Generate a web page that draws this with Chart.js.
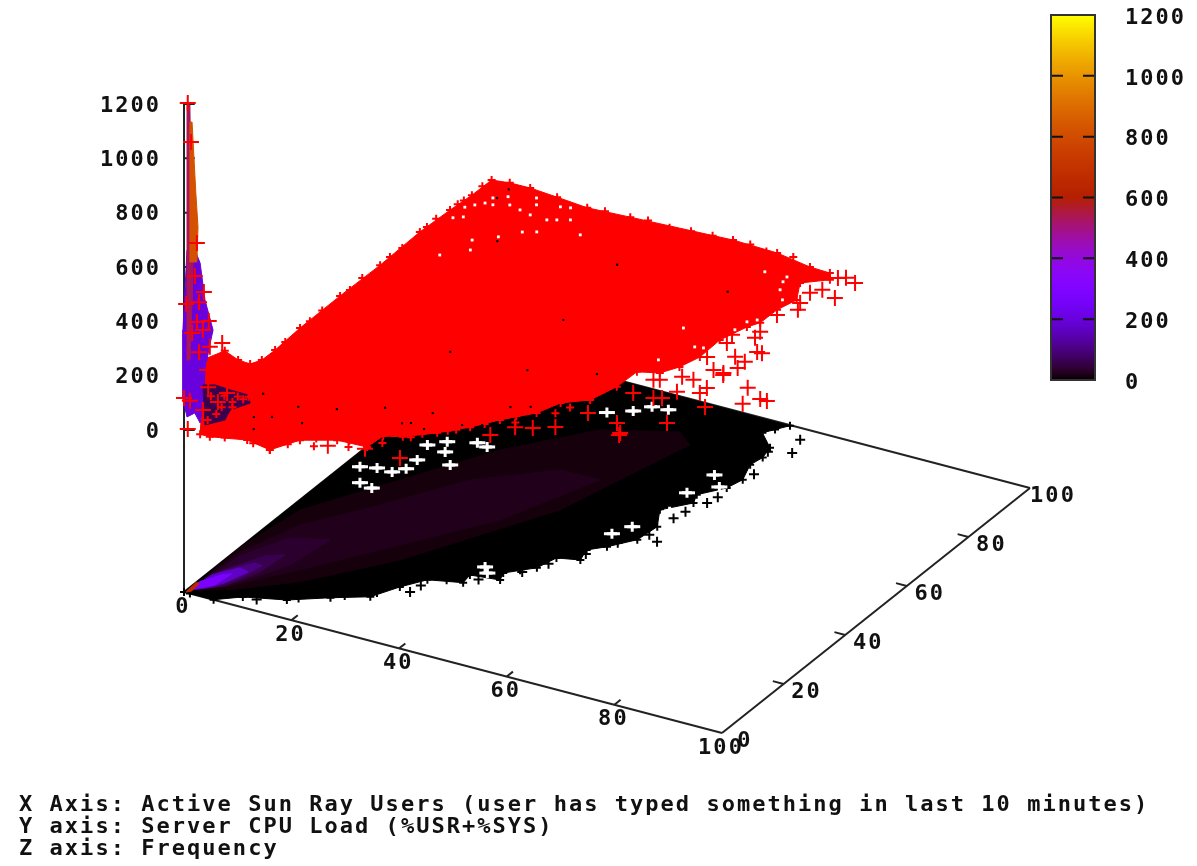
<!DOCTYPE html>
<html>
<head>
<meta charset="utf-8">
<title>Sun Ray frequency</title>
<script src="https://cdn.jsdelivr.net/npm/chart.js@4"></script>
<style>
html, body { margin: 0; background: #fff; overflow: hidden; }
#scene { position: absolute; left: 0; top: 0; }
#bar { position: absolute; left: 1030px; top: 0; }
#caption { position: absolute; left: 19px; top: 793px; margin: 0; color: #111;
  font: bold 22px/22px "DejaVu Sans Mono", monospace; letter-spacing: 2.03px; white-space: pre; }
</style>
</head>
<body>
<canvas id="scene" width="1197" height="866"></canvas>
<canvas id="bar" width="167" height="400"></canvas>
<pre id="caption">X Axis: Active Sun Ray Users (user has typed something in last 10 minutes)
Y axis: Server CPU Load (%USR+%SYS)
Z axis: Frequency</pre>
<script>
// axis ticks
const userTicks = [0, 20, 40, 60, 80, 100];
const loadTicks = [0, 20, 40, 60, 80, 100];
const freqTicks = [0, 200, 400, 600, 800, 1000, 1200];
const floorFreq = -596; // the base of the box sits this far under z=0

// floor histogram: black outline, values read along the edge
const floorUsers = [0, 0, 55.5, 54.1, 52.9, 56.6, 57.3, 56.8, 58.4, 57.6, 54.6, 55.6, 52.1, 54.7, 54.2, 51.2, 48.9, 49.8, 46.1, 45.1, 41.3, 42.1, 37, 37.4, 31.9, 29.3, 26.9, 21.5, 15.8, 9.1, 5.5, 1.1];
const floorLoad = [0, 100, 99.8, 97.4, 95.4, 91.4, 87.8, 84.6, 79.4, 75.6, 71.1, 68.3, 63.5, 58.1, 52.5, 47.9, 45.3, 41.7, 40.4, 35.8, 31.5, 29.1, 28.2, 25.3, 23.3, 18.9, 13.5, 10, 5.8, 3.2, 0, 0];

// floor histogram: frequency bands, outer to inner
const bandFreq = [8, 20, 35, 60, 100, 170, 280, 650];
const bandUsers = [
  [0.4, 0, 1.8, 10.5, 19.2, 29.7, 41.2, 44.9, 42.3, 38.2, 31.4, 24.6, 14.4, 6],
  [0.4, 0.8, 4.4, 11.2, 20.3, 31.2, 38.5, 31.5, 21.9, 12.3, 5.3],
  [0.4, 1.5, 5.3, 11.3, 10.1, 6],
  [0.4, 1.8, 5, 7.6, 7.1, 4.6],
  [0.4, 1.5, 4.8, 6.3, 5.3, 3.4],
  [0.4, 0.9, 3.6, 5.4, 4.1, 2.2],
  [0.4, 0.4, 2.3, 3.5, 3.1],
  [0.3, 0, 0.7, 0.9]
];
const bandLoad = [
  [1.1, 18.9, 34.5, 51.8, 69, 83.3, 89, 85.8, 74.2, 55.5, 41.3, 27.2, 12.4, 4.3],
  [1.1, 16.8, 29.9, 40.8, 57.4, 67.8, 67.9, 47.5, 31.8, 16.1, 5.5],
  [1.1, 15.6, 25.1, 27.8, 16.8, 7.6],
  [1.1, 10.1, 17.6, 19.5, 12.2, 5.1],
  [1.1, 9, 14.6, 14.3, 8.8, 4],
  [1.1, 7.5, 11.9, 11.3, 6.1, 2.9],
  [1.1, 4.4, 8.3, 9.4, 4.6],
  [0.1, 4, 3.7, 0.9]
];

// empty cells in the floor
const floorGapUsers = [2.6, 5.2, 8, 9.4, 9.4, 5.4, 8, 10.4, 11.9, 14.9, 8.2, 14.8, 16.9, 27.6, 31, 32.9, 35.7, 53.6, 56.4, 52.9, 53.8, 51.2, 49.6, 39.1, 37.7];
const floorGapLoad = [52.6, 53.6, 53.6, 55.7, 59.3, 47.7, 47, 67.3, 64, 60.4, 64.7, 69.4, 68.9, 89.1, 91.7, 94.5, 94.9, 78.6, 75.3, 70.9, 63.7, 56.1, 52.3, 30.2, 31.9];

// lone cells just outside the floor outline
const floorStrayUsers = [59.4, 60.6, 57.3, 43.8, 31.6, 57.5, 11.5, 17, 23, 27, 32, 34.5, 39, 43, 46, 49.5, 52, 55, 55.5, 56, 58, 59, 57];
const floorStrayLoad = [96.3, 91.6, 53.5, 33.3, 18.2, 69.4, 3.5, 7.5, 12, 15.5, 21, 25, 27.5, 34, 38, 44, 50, 55, 62, 65, 72, 82, 90];

// red points: outline of the solid part of the cloud
const cloudUsers = [3.9, 1, 0.5, 0.5, 0.5, 0.5, 0.5, 0.5, 0.5, 0.5, 0.5, 0.5, 0.5, 3.3, 7.1, 12.1, 17.7, 25.7, 44.8, 53, 59.1, 62.8, 63.9, 60.3, 62.8, 61.8, 61.7, 60.6, 59.1, 59.3, 58.2, 56.5, 53.1, 52.9, 51.5, 47.9, 46.3, 42.4, 39.5, 35.9, 31.8, 28.9, 28.6, 23.2, 18, 15.5, 10.6, 4.8, 3];
const cloudLoad = [0, 11.5, 16.7, 20.6, 24.4, 28.7, 36.8, 49.8, 62.8, 75.7, 85.5, 92.6, 99, 100, 100, 100, 100, 100, 100, 100, 100, 100, 98.1, 94.7, 89.2, 84.6, 79.3, 76.9, 70.7, 63.9, 59.2, 55.8, 54.3, 48.1, 41.9, 38.6, 33.6, 28.5, 23.9, 19.5, 15.5, 14.2, 9.5, 9.2, 6.2, 0.8, 2, 0, 0];
const cloudFreq = [282, 193, 110, 60, 40, 38, 46, 47, 43, 49, 41, 32, 30, 25, 26, 18, 8, 15, 30, 25, 5, 2, 0, 0, 0, 0, 0, 0, 0, 0, 0, 0, 0, 0, 0, 0, 0, 0, 0, 0, 0, 0, 0, 0, 0, 0, 0, 0, 0];

// small stubble of red points along the cloud edge
const fringeUsers = [0.5, 0.5, 0.5, 0.5, 0.5, 0.5, 0.5, 0.5, 0.5, 0.5, 0.5, 0.5, 21, 29, 33, 37, 41, 48, 51, 56, 7, 9, 12, 13, 17, 20, 21, 25, 26, 30, 33, 34, 37, 38, 41, 44, 45, 49, 50];
const fringeLoad = [32, 40, 44, 53, 57, 66, 70, 78, 81, 88, 90, 96, 100, 100, 100, 100, 100, 100, 100, 100, 1, 3, 1.5, 3, 4, 8, 5.5, 10, 8, 12, 16, 18, 21, 22, 26, 31, 29, 35, 38];
const fringeFreq = [38, 42, 46, 40, 48, 44, 41, 46, 50, 40, 36, 34, 12, 20, 14, 22, 26, 30, 20, 26, 0, 0, 0, 0, 0, 0, 0, 0, 0, 0, 0, 0, 0, 0, 0, 0, 0, 0, 0];

// the spike next to the origin, drawn at load 0
const spikeFreq = [200, 530, 820, 60];
const spikeUsers = [
  [-0.2, 0.56, 2.04, 3, 3.9, 5.4, 4.8, 3.9, 3.7, 3, 2, 0.56, -0.3, -0.3],
  [0.56, 1.1, 1.3, 1.67, 1.5, 1.1, 0.74, 0.56],
  [1.1, 1.5, 2.2, 2.6, 2.4, 1.1],
  [3.5, 5.8, 8.6, 11.9, 12.3, 8.6, 7.6, 3.9]
];
const spikeCounts = [
  [367, 665, 673, 630, 499, 396, 338, 241, 130, 41, 73, 51, 120, 194],
  [1199, 1202, 853, 627, 486, 263, 261, 849],
  [1139, 1141, 884, 761, 631, 624],
  [184, 196, 192, 191, 163, 118, 76, 39]
];
// red specks over the dark foot of the spike
const speckUsers = [5, 7, 9, 10, 6, 4.4, 9, 11, 7.5, 12];
const speckCounts = [150, 120, 150, 175, 90, 60, 130, 170, 165, 185];

// single red + marks
const plusUsers = [0.7, 1.3, 2.4, 2, 3.7, 0.4, 2.8, 2.4, 4.6, 1.5, 3.5, 7.1, 2.8, 4.8, 4.3, 4.5, 0, 1.1, 6.3, 3.5, 0.7, 8,
  64.7, 65.8, 68, 67.8, 64.6, 63.4, 63.8, 64.7, 62.7, 63.3, 63.6, 67.3, 66.4, 59.9, 60.6, 64.2, 66.4, 66.5, 63.5, 65.4, 60.3, 62.4, 65.7, 65.6, 71.4, 75.1, 76.4, 73.5, 68.8, 62.2, 57.7, 60.3, 61.2, 60, 56.3, 66.3, 61.5, 59.3, 61.7, 51.4, 48.4, 45.8, 43.7, 53.5, 35.1, 65.7, 56.8, 14.8, 22.9, 28.6];
const plusLoad = [0, 0, 0, 0, 0, 0, 0, 0, 0, 0, 0, 0, 0, 0, 0, 0, 0, 0, 0, 0, 0, 0,
  99.3, 100, 99.1, 92.9, 94.4, 92.5, 88.6, 86.3, 83, 76.5, 74.3, 70.1, 70.1, 73.3, 70.4, 66.8, 66.1, 63.6, 61, 60.9, 64.5, 56.4, 55, 52.9, 58.3, 55.9, 55.8, 53, 49, 51.4, 53.7, 56.4, 48.3, 47.6, 47.5, 41, 34.2, 37, 33.5, 30.8, 28.7, 27.5, 23.1, 37.7, 8.8, 60.3, 53.2, 2, 6.7, 8.8];
const plusFreq = [1207, 1067, 701, 577, 527, 466, 485, 410, 425, 365, 386, 357, 301, 331, 243, 181, 118, 113, 136, 92, 7, 178,
  0, 0, 0, 0, 0, 0, 0, 0, 0, 0, 0, 0, 0, 0, 0, 0, 0, 0, 0, 0, 0, 0, 0, 0, 0, 0, 0, 0, 0, 0, 0, 0, 0, 0, 0, 0, 0, 0, 0, 0, 0, 0, 0, 0, 0, 0, 0, 0, 0, 0];

// holes between the red points
const holeUsers = [2.2, 2.4, 3.6, 4.3, 6, 1.1, 0.1, 0.3, 1.6, 8.3, 10.6, 8.5, 9.7, 13.4, 15, 15.2, 17.1, 13.8, 12.5, 14.5, 6.9, 8.4, 5, 10, 21.1, 57.7, 57.4, 53.4, 58.7, 60.8, 59.4, 56.8, 58.2, 54, 51.9, 59.7, 60.8];
const holeLoad = [93.9, 96.1, 94, 97.7, 95.3, 92.5, 91, 86.8, 87.9, 94.6, 93.9, 99.6, 97.5, 98.8, 99.3, 94.5, 95.6, 93.7, 88, 89.2, 81.5, 78.3, 74.3, 84.6, 91.8, 93.7, 95.5, 95.3, 91, 88.1, 75.1, 66.6, 67, 59.7, 71.5, 78.5, 79.9];

// dark low-count points showing through the red
const dotUsers = [4.7, 11.9, 10, 7.5, 9.6, 17.7, 24.2, 31.8, 29.3, 30.5, 15.3, 38, 40.8, 33.4, 51.7, 3.1, 3, 10.6, 31.5, 47.9, 41.6, 44.4, 33.7, 23.5, 37.5];
const dotLoad = [17.5, 16.3, 11.1, 9.6, 5.9, 18.7, 23, 25.2, 19.6, 20.4, 11.6, 23.9, 25.5, 19.6, 86.2, 100, 96.4, 83.2, 85.6, 50.4, 33.3, 35, 64.3, 45.4, 46];

// picture scale of the box: one unit of each axis on screen
const unit = { xx: 5.38, xy: 1.41, yx: 3.08, yy: 2.45, z: 0.2717 };

function project(user, load, freq) {
  return {
    x: unit.xx * user + unit.yx * load,
    y: -unit.xy * user + unit.yy * load + unit.z * freq
  };
}

// gnuplot palette 7,5,15
function palette(freq) {
  const t = Math.max(0, Math.min(1, freq / 1200));
  const r = Math.sqrt(t), g = t * t * t, b = Math.max(0, Math.sin(2 * Math.PI * t));
  return 'rgb(' + Math.round(r * 255) + ',' + Math.round(g * 255) + ',' + Math.round(b * 255) + ')';
}

function shape(users, loads, freqs, color, order, extra) {
  const data = users.map(function (u, i) {
    return project(u, loads[i], Array.isArray(freqs) ? freqs[i] : freqs);
  });
  data.push(data[0]);
  return Object.assign({
    data: data, showLine: true, fill: 'shape', backgroundColor: color, borderColor: color,
    borderWidth: 1, pointRadius: 0, order: order
  }, extra || {});
}

function marks(users, loads, freqs, style, color, radius, width, order) {
  return {
    data: users.map(function (u, i) {
      return project(u, loads[i], Array.isArray(freqs) ? freqs[i] : freqs);
    }),
    showLine: false, pointStyle: style, pointRadius: radius, pointBorderWidth: width,
    pointBorderColor: color, pointBackgroundColor: color, order: order
  };
}

function edge(from, to, order) {
  return {
    data: [project.apply(null, from), project.apply(null, to)],
    showLine: true, borderColor: '#222', borderWidth: 2, pointRadius: 0, fill: false, order: order
  };
}

const datasets = [];
// box first, everything else on top (higher order is painted earlier)
const C = floorFreq;
datasets.push(edge([0, 0, C], [100, 0, C], 100));
datasets.push(edge([100, 0, C], [100, 100, C], 100));
datasets.push(edge([100, 100, C], [0, 100, C], 100));
datasets.push(edge([0, 100, C], [0, 0, C], 100));
datasets.push(edge([0, 0, C], [0, 0, 1200], 100));
userTicks.slice(1, -1).forEach(function (u) { datasets.push(edge([u, 0, C], [u, 2, C], 100)); });
loadTicks.slice(1, -1).forEach(function (l) { datasets.push(edge([100, l, C], [98, l, C], 100)); });
freqTicks.forEach(function (f) { datasets.push(edge([0, 0, f], [2, 0, f + 10.4], 100)); });

datasets.push(shape(floorUsers, floorLoad, C, '#000', 90, {
  pointRadius: 4, pointStyle: 'cross', pointBorderColor: '#000', pointBorderWidth: 2
}));
bandFreq.forEach(function (f, i) {
  datasets.push(shape(bandUsers[i], bandLoad[i], C, palette(f), 80 - i));
});
datasets.push(marks(floorStrayUsers, floorStrayLoad, C, 'cross', '#000', 5, 2, 70));
datasets.push(marks(floorGapUsers, floorGapLoad, C, 'cross', '#fff', 5, 3, 60));
datasets.push(marks(floorGapUsers, floorGapLoad, C, 'line', '#fff', 8, 3, 59));

datasets.push(shape(cloudUsers, cloudLoad, cloudFreq, '#f00', 50, {
  pointRadius: 4, pointStyle: 'cross', pointBorderColor: '#f00', pointBorderWidth: 2
}));
datasets.push(marks(fringeUsers, fringeLoad, fringeFreq, 'cross', '#f00', 4, 2, 49));
datasets.push(marks(holeUsers, holeLoad, 0, 'rect', '#fff', 2, 0, 45));
datasets.push(marks(dotUsers, dotLoad, 0, 'rect', '#000', 1.5, 0, 44));
spikeFreq.forEach(function (f, i) {
  const loads = spikeUsers[i].map(function () { return 0; });
  datasets.push(shape(spikeUsers[i], loads, spikeCounts[i], palette(f), 40 - i));
});
datasets.push(marks(speckUsers, speckUsers.map(function () { return 0; }), speckCounts, 'cross', '#f00', 4, 2, 20));
datasets.push(marks(plusUsers, plusLoad, plusFreq, 'cross', '#f00', 8, 2, 10));

// tick labels of the 3D box, placed through the chart's own scales
const boxLabels = {
  id: 'boxLabels',
  afterDatasetsDraw: function (chart) {
    const c = chart.ctx, sx = chart.scales.x, sy = chart.scales.y;
    function put(p, text, dx, dy, align) {
      c.textAlign = align;
      c.fillText(text, sx.getPixelForValue(p.x) + dx, sy.getPixelForValue(p.y) + dy);
    }
    c.save();
    c.font = 'bold 22px "DejaVu Sans Mono", monospace';
    c.letterSpacing = '2.03px';
    c.fillStyle = '#111';
    c.textBaseline = 'middle';
    userTicks.forEach(function (u) { put(project(u, 0, C), String(u), -1, 15, 'center'); });
    loadTicks.forEach(function (l) { put(project(100, l, C), String(l), 23, 8, 'center'); });
    freqTicks.forEach(function (f) { put(project(0, 0, f), String(f), -23, 2, 'right'); });
    c.restore();
  }
};

new Chart(document.getElementById('scene'), {
  type: 'scatter',
  data: { datasets: datasets },
  options: {
    responsive: false,
    animation: false,
    events: [],
    layout: { padding: 0, autoPadding: false },
    plugins: { legend: { display: false }, tooltip: { enabled: false } },
    scales: {
      x: { type: 'linear', display: false, min: -184, max: 1013 },
      y: { type: 'linear', display: false, min: -436, max: 430 }
    }
  },
  plugins: [boxLabels]
});

// colour bar
const barTicks = {
  id: 'barTicks',
  beforeDraw: function (chart) {
    chart.ctx.letterSpacing = '2.03px';
  },
  afterDatasetsDraw: function (chart) {
    const c = chart.ctx, a = chart.chartArea, y = chart.scales.y;
    c.save();
    c.strokeStyle = '#111';
    c.lineWidth = 2;
    freqTicks.slice(1, -1).forEach(function (f) {
      const p = y.getPixelForValue(f);
      c.beginPath();
      c.moveTo(a.left, p); c.lineTo(a.left + 12, p);
      c.moveTo(a.right - 12, p); c.lineTo(a.right, p);
      c.stroke();
    });
    c.strokeStyle = '#333';
    c.strokeRect(a.left, a.top, a.right - a.left, a.bottom - a.top);
    c.restore();
  }
};

new Chart(document.getElementById('bar'), {
  type: 'bar',
  data: {
    labels: ['Frequency'],
    datasets: [{
      data: [freqTicks[freqTicks.length - 1]],
      barPercentage: 1,
      categoryPercentage: 1,
      backgroundColor: function (ctx) {
        const a = ctx.chart.chartArea;
        if (!a) return '#000';
        const g = ctx.chart.ctx.createLinearGradient(0, a.bottom, 0, a.top);
        for (let f = 0; f <= 1200; f += 20) g.addColorStop(f / 1200, palette(f));
        return g;
      }
    }]
  },
  options: {
    responsive: false,
    animation: false,
    events: [],
    layout: { padding: { left: 21, top: 15, bottom: 20, right: 0 }, autoPadding: false },
    plugins: { legend: { display: false }, tooltip: { enabled: false } },
    scales: {
      x: { display: false },
      y: {
        position: 'right',
        min: 0,
        max: 1200,
        afterFit: function (scale) {
          scale.width = 102;
          scale.paddingTop = 0;
          scale.paddingBottom = 0;
        },
        grid: { display: false },
        border: { display: false },
        ticks: {
          stepSize: 200,
          padding: 22,
          labelOffset: 3,
          color: '#111',
          font: { family: '"DejaVu Sans Mono", monospace', weight: 'bold', size: 22 },
          callback: function (v) { return String(v); }
        }
      }
    }
  },
  plugins: [barTicks]
});
</script>
</body>
</html>
